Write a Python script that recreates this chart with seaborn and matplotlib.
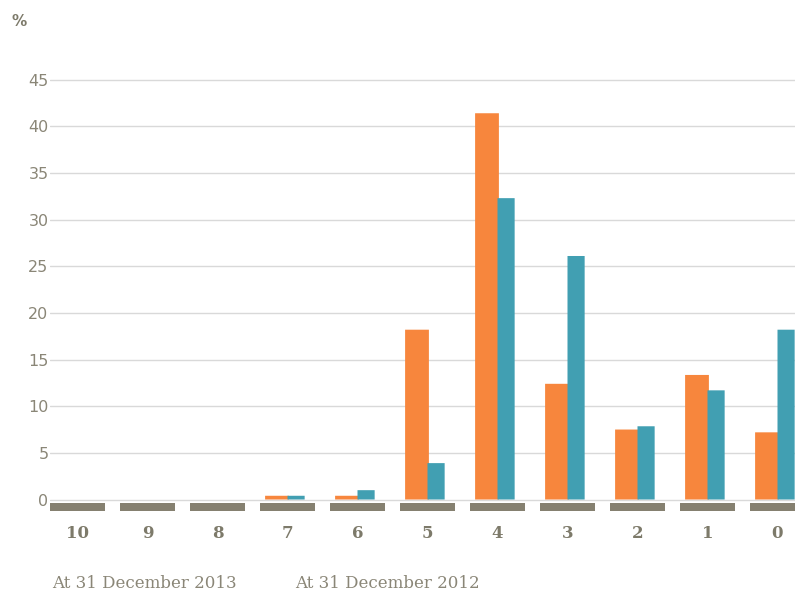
import matplotlib
matplotlib.use("Agg")
import matplotlib.pyplot as plt
import seaborn as sns
import pandas as pd
import numpy as np

categories = ["10", "9", "8", "7", "6", "5", "4", "3", "2", "1", "0"]
values_2013 = [0, 0, 0, 0.4, 0.4, 18.2, 41.4, 12.4, 7.5, 13.35, 7.2]
values_2012 = [0, 0, 0, 0.4, 1.0, 3.9, 32.3, 26.1, 7.85, 11.7, 18.2]
series_labels = ["At 31 December 2013", "At 31 December 2012"]
y_ticks = [0, 5, 10, 15, 20, 25, 30, 35, 40, 45]

ORANGE = "#F7863D"
TEAL = "#419FB2"
BAND = "#858070"
TXT = "#8a8677"

sns.set_theme(style="white")

df = pd.DataFrame({
    "category": categories * 2,
    "value": values_2013 + values_2012,
    "series": [series_labels[0]] * len(categories) + [series_labels[1]] * len(categories),
})

fig = plt.figure(figsize=(7.95, 5.97), dpi=100)
W, H = 795, 597
left_px, right_px = 50, 795
top_px, bot_px = 61, 513.5
ax = fig.add_axes([left_px / W, 1 - bot_px / H, (right_px - left_px) / W, (bot_px - top_px) / H])

sns.barplot(data=df, x="category", y="value", hue="series", order=categories,
            hue_order=series_labels, palette=[ORANGE, TEAL], saturation=1,
            dodge=True, width=0.8, legend=False, linewidth=0, ax=ax)

# adjust bar widths: orange wider on the left of centre, teal narrower on the right
w_or, w_te = 0.32, 0.245
orange_rgb = matplotlib.colors.to_rgba(ORANGE)
for p in ax.patches:
    x, w = p.get_x(), p.get_width()
    fc = p.get_facecolor()
    p.set_snap(False)
    if abs(fc[0] - orange_rgb[0]) < 0.05:
        c = round(x + w)
        p.set_x(c - w_or)
        p.set_width(w_or + 0.02)
        p.set_zorder(2)
    else:
        c = round(x)
        p.set_x(c)
        p.set_width(w_te)
        p.set_zorder(2.5)

# grey category bands below the zero line
pos = np.arange(len(categories))
ax.bar(pos, -0.85, bottom=-0.38, width=0.786, color=BAND, linewidth=0, zorder=3)

ax.set_xlim((50 - 77.5) / 70, (795 - 77.5) / 70)
ax.set_ylim(-1.5, 47)
ax.set_yticks(y_ticks)
ax.set_yticklabels([str(t) for t in y_ticks])
ax.yaxis.grid(True, color="#d9d9d9", linewidth=1)
ax.xaxis.grid(False)
ax.set_axisbelow(True)
for s in ax.spines.values():
    s.set_visible(False)
ax.set_xlabel("")
ax.set_ylabel("")
ax.tick_params(axis="y", length=0, pad=1, labelsize=11.5, labelcolor=TXT)
ax.tick_params(axis="x", length=0, pad=8, labelsize=12, labelcolor="#7d7a6a")
for lab in ax.get_xticklabels():
    lab.set_fontfamily("DejaVu Serif")
    lab.set_fontweight("bold")

fig.text(12 / W, 1 - 22 / H, "%", fontsize=11, color="#7d7a6a", fontweight="bold", va="center", ha="left")
fig.text(52 / W, 1 - 583 / H, series_labels[0], fontsize=12, color=TXT, family="DejaVu Serif", va="center", ha="left")
fig.text(295 / W, 1 - 583 / H, series_labels[1], fontsize=12, color=TXT, family="DejaVu Serif", va="center", ha="left")

fig.savefig("out.png", dpi=100)
